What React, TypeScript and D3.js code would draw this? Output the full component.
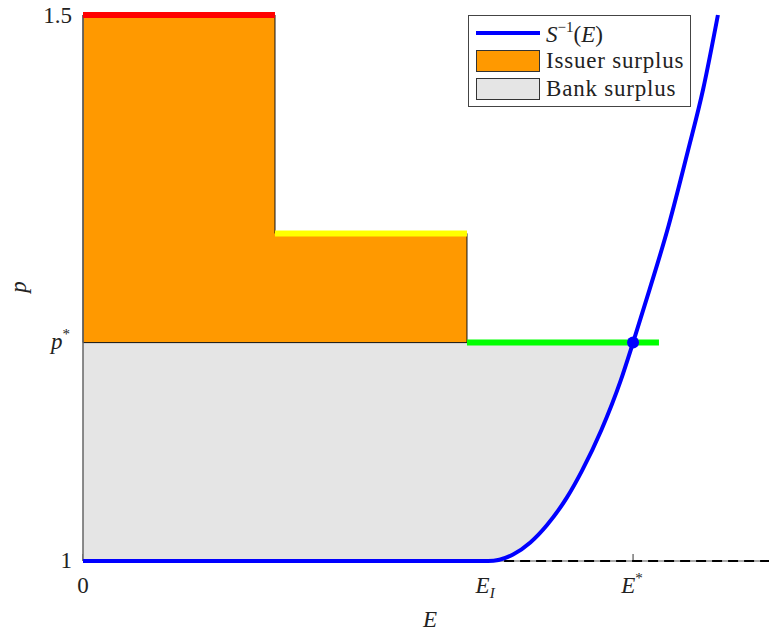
import React from "react";
import * as d3 from "d3";

// ---- data ----
const pStar = 1.2;
const E_I = 2.11;
const E_star = 2.865;
const xTicks = [0, E_I, E_star];
// step bids: [E from, E to, price]
const stepStarts = [0, 1, 2];
const stepEnds = [1, 2, 3];
const stepPrices = [1.5, 1.3, pStar];
const stepColors = ["#ff0000", "#ffff00", "#00ff00"];
// inverse supply curve S^{-1}(E) points
const curveE = [0, 2.11, 2.24, 2.33, 2.417, 2.52, 2.6, 2.7, 2.8, 2.865, 2.95, 3.05, 3.15, 3.23, 3.307];
const curveP = [1, 1, 1.006, 1.017, 1.033, 1.058, 1.083, 1.12, 1.165, 1.2, 1.248, 1.307, 1.375, 1.432, 1.5];

const W = 769;
const H = 633;
const serif = "'Liberation Serif', 'Times New Roman', serif";

export default function App() {
  const x = d3.scaleLinear().domain([0, 3.62]).range([83, 778]);
  const y = d3.scaleLinear().domain([1, 1.5]).range([561, 15]);

  const pts: [number, number][] = curveE.map((e, i) => [e, curveP[i]]);
  const line = d3
    .line<[number, number]>()
    .x((d) => x(d[0]))
    .y((d) => y(d[1]))
    .curve(d3.curveMonotoneX);
  const curvePath = line(pts) || "";

  // gray (bank surplus) region: below p*, left of curve
  const grayCurve = line(pts.filter((d) => d[0] <= E_star)) || "";
  const grayPath =
    `M${x(0)},${y(pStar)} L${x(0)},${y(1)} ` +
    grayCurve.replace(/^M/, "L") +
    ` L${x(0)},${y(pStar)} Z`;

  // orange (issuer surplus) region: steps above p*
  const orange: [number, number][] = [[0, pStar]];
  for (let i = 0; i < 2; i++) {
    orange.push([stepStarts[i], stepPrices[i]]);
    orange.push([stepEnds[i], stepPrices[i]]);
  }
  orange.push([stepEnds[1], pStar]);
  const orangePath =
    "M" + orange.map((d) => `${x(d[0])},${y(d[1])}`).join(" L") + " Z";

  return (
    <div style={{ position: "absolute", left: 0, top: 0 }}>
      <svg width={W} height={H} style={{ display: "block", background: "#fff" }}>
        {/* axes */}
        <line x1={x(0)} x2={x(3.62)} y1={y(1)} y2={y(1)} stroke="#555" strokeWidth={1} />
        {xTicks.map((t, i) => (
          <line key={"xt" + i} x1={x(t)} x2={x(t)} y1={y(1)} y2={y(1) - 7} stroke="#333" strokeWidth={1} />
        ))}

        {/* regions */}
        <path d={grayPath} fill="#e5e5e5" stroke="none" />
        <path d={orangePath} fill="#ff9900" stroke="#111" strokeWidth={1} />
        <line x1={x(0)} x2={x(0)} y1={y(1)} y2={y(1.5)} stroke="#666" strokeWidth={1.5} />

        {/* bid steps */}
        {stepStarts.map((s, i) => (
          <line
            key={"st" + i}
            x1={x(s)}
            x2={x(stepEnds[i])}
            y1={y(stepPrices[i])}
            y2={y(stepPrices[i])}
            stroke={stepColors[i]}
            strokeWidth={6}
          />
        ))}

        {/* dashed p=1 line */}
        <line x1={x(E_I)} x2={x(3.62)} y1={y(1)} y2={y(1)} stroke="#000" strokeWidth={2.2} strokeDasharray="10,6" />

        {/* supply curve */}
        <path d={curvePath} fill="none" stroke="#0000ff" strokeWidth={4} />
        <circle cx={x(E_star)} cy={y(pStar)} r={6} fill="#0000ff" />

        {/* tick labels */}
        <g fontFamily={serif} fontSize={23} fill="#222">
          <text x={72} y={y(1.5) + 8} textAnchor="end">1.5</text>
          <text x={72} y={y(1) + 7} textAnchor="end">1</text>
          <text x={70} y={y(pStar) + 6} textAnchor="end" fontStyle="italic">
            p<tspan fontStyle="normal" fontSize={15} dy={-10}>*</tspan>
          </text>
          <text x={x(0)} y={593} textAnchor="middle">0</text>
          <text x={x(E_I) - 3} y={593} textAnchor="middle" fontStyle="italic">
            E<tspan fontSize={15} dy={5}>I</tspan>
          </text>
          <text x={x(E_star) - 1} y={593} textAnchor="middle" fontStyle="italic">
            E<tspan fontStyle="normal" fontSize={15} dy={-10}>*</tspan>
          </text>
          {/* axis labels */}
          <text x={430} y={627} textAnchor="middle" fontStyle="italic">E</text>
          <text transform={`translate(26,287) rotate(-90)`} textAnchor="middle" fontStyle="italic">p</text>
        </g>

        {/* legend */}
        <g fontFamily={serif} fontSize={23} fill="#222">
          <rect x={468.5} y={15.5} width={222} height={91} fill="#fff" stroke="#444" strokeWidth={1} />
          <line x1={476} x2={540} y1={33} y2={33} stroke="#0000ff" strokeWidth={4} />
          <text x={546} y={42} fontStyle="italic">
            S<tspan fontStyle="normal" fontSize={15} dy={-10}>−1</tspan>
            <tspan fontStyle="normal" dy={10}>(</tspan>E<tspan fontStyle="normal">)</tspan>
          </text>
          <rect x={476.5} y={50.5} width={63} height={21} fill="#ff9900" stroke="#333" strokeWidth={1} />
          <text x={546} y={68} letterSpacing={0.8}>Issuer surplus</text>
          <rect x={476.5} y={78.5} width={63} height={21} fill="#e5e5e5" stroke="#333" strokeWidth={1} />
          <text x={546} y={96} letterSpacing={0.8}>Bank surplus</text>
        </g>
      </svg>
    </div>
  );
}
